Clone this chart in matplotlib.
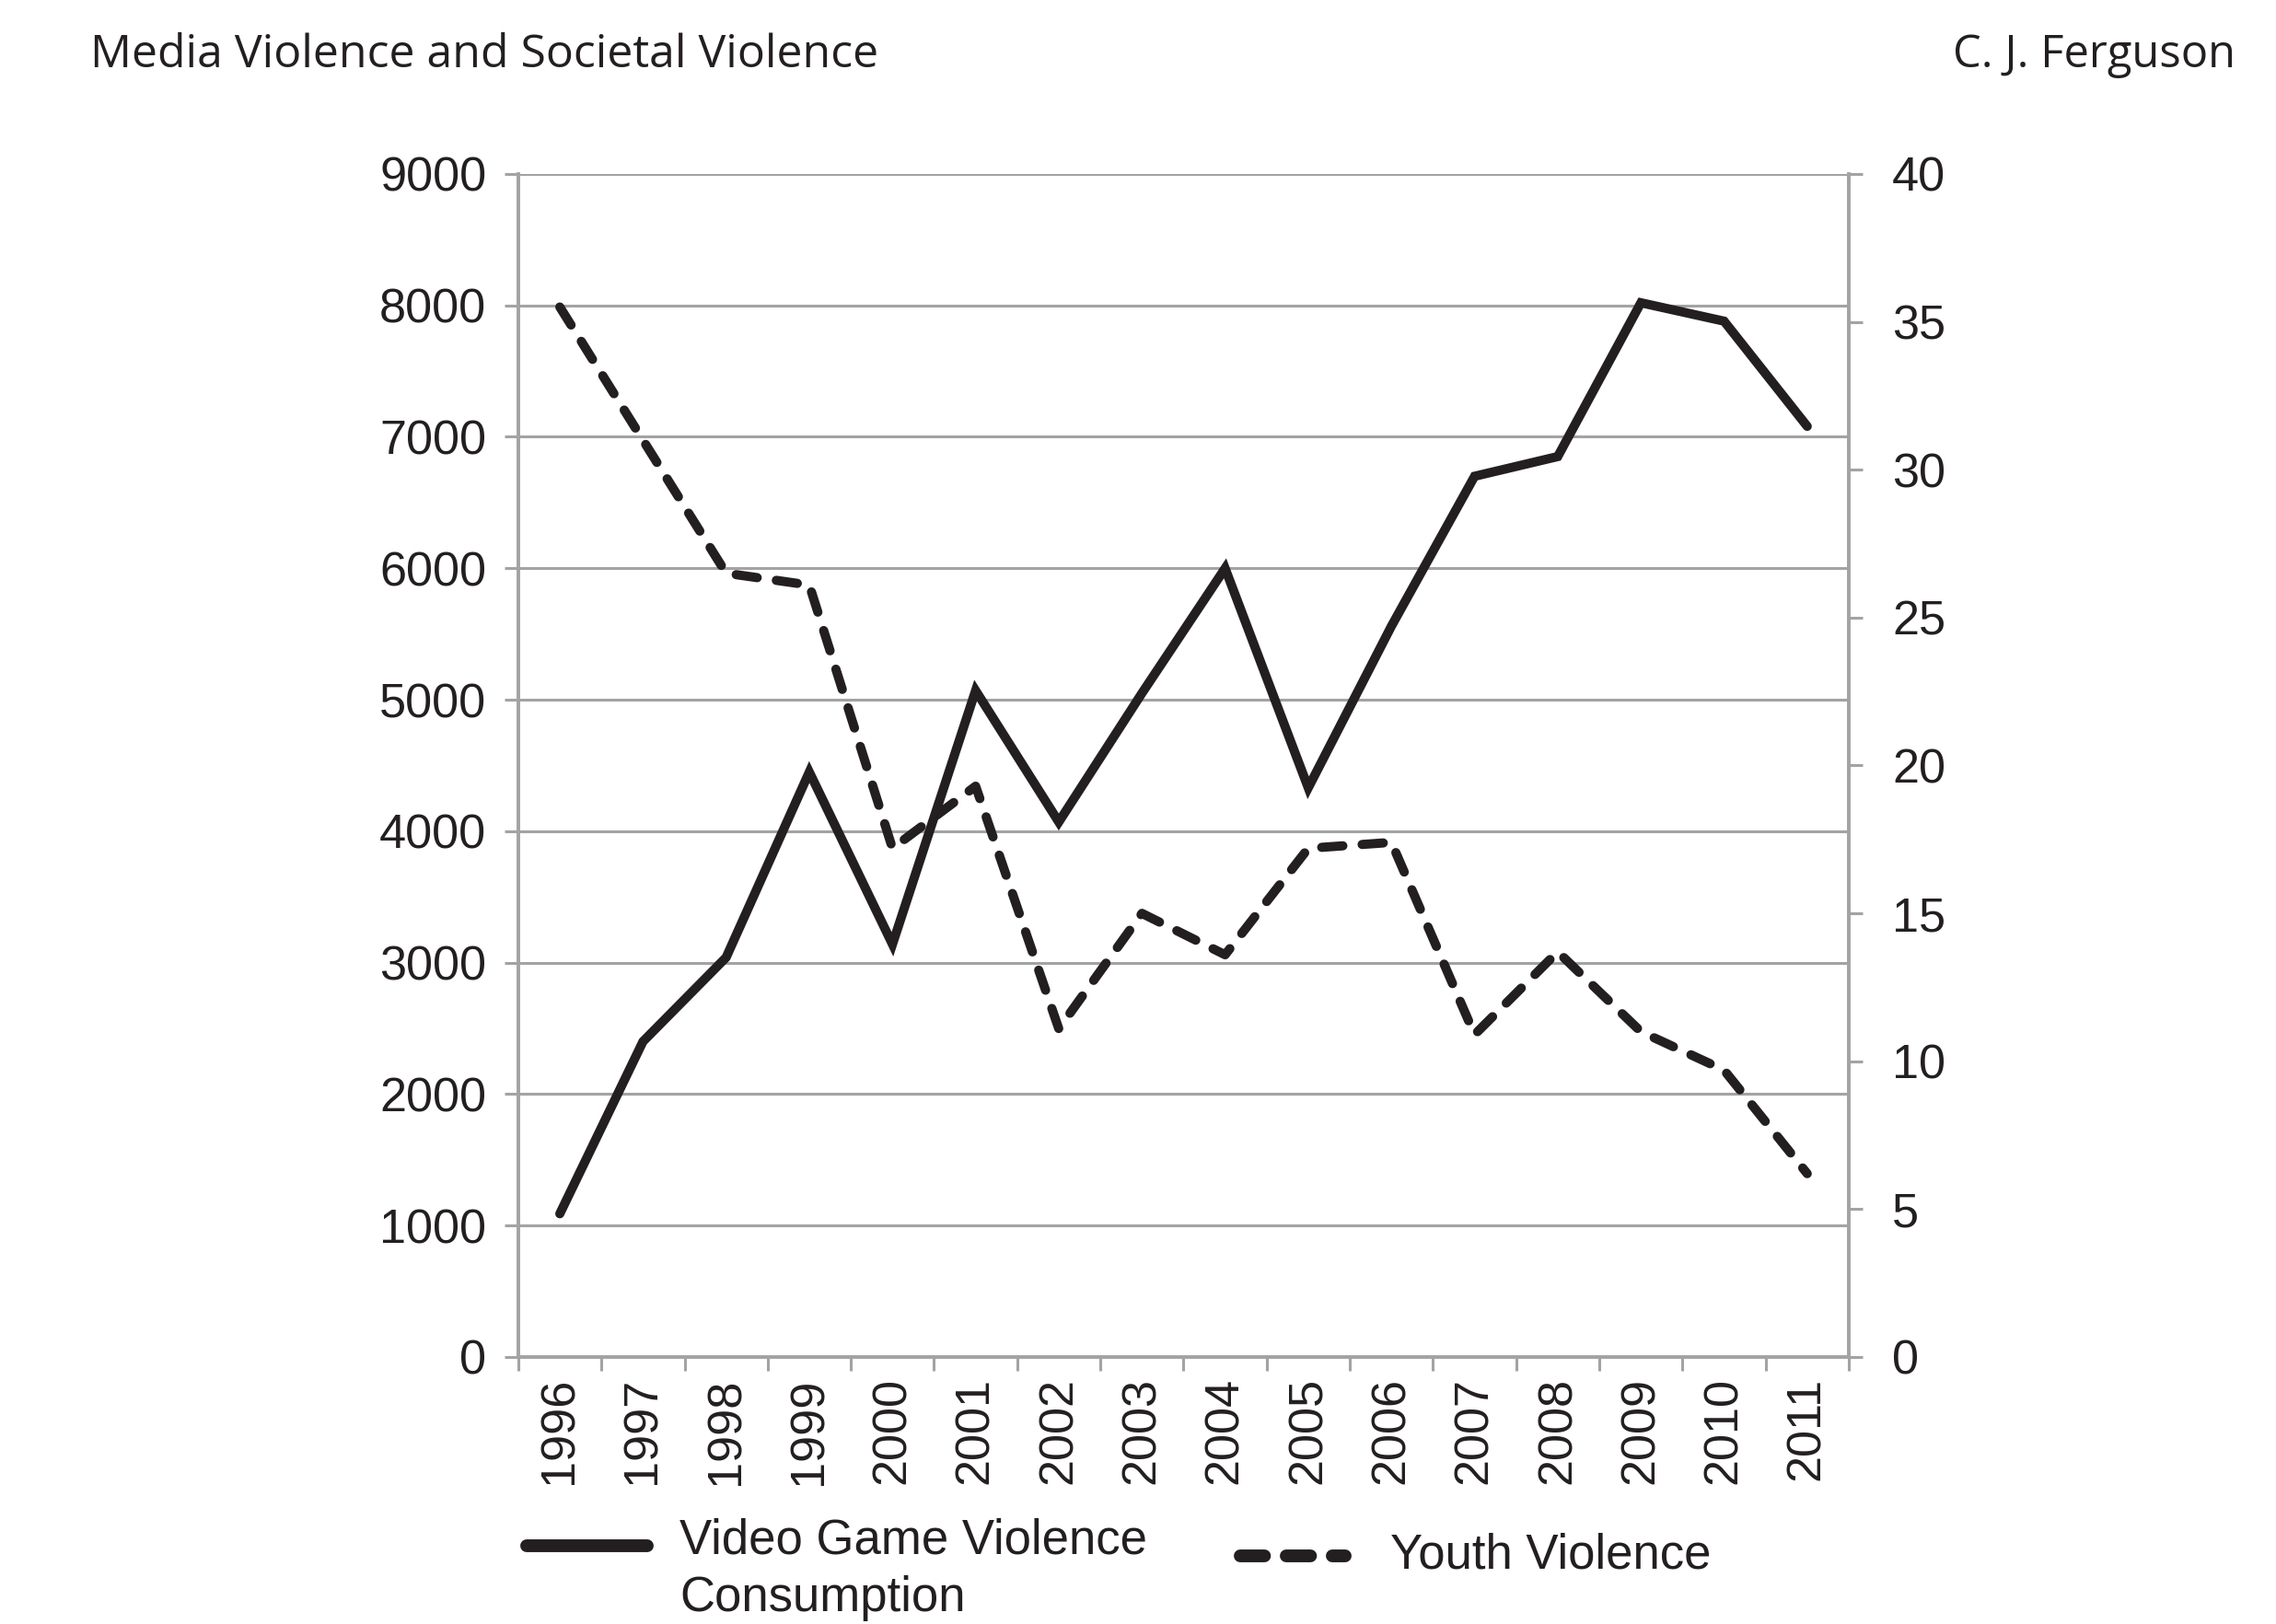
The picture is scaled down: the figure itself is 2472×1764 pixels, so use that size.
import matplotlib
matplotlib.use("Agg")
import matplotlib.pyplot as plt
from matplotlib.lines import Line2D
import numpy as np

years = ["1996", "1997", "1998", "1999", "2000", "2001", "2002", "2003",
         "2004", "2005", "2006", "2007", "2008", "2009", "2010", "2011"]
video_game = [1090, 2400, 3040, 4450, 3140, 5070, 4070, 5050,
              6000, 4330, 5560, 6700, 6850, 8020, 7880, 7080]
youth = [35.5, 31.0, 26.5, 26.1, 17.2, 19.3, 11.1, 15.0,
         13.6, 17.2, 17.4, 10.9, 13.7, 11.0, 9.7, 6.2]
left_ticks = [0, 1000, 2000, 3000, 4000, 5000, 6000, 7000, 8000, 9000]
right_ticks = [0, 5, 10, 15, 20, 25, 30, 35, 40]

plt.rcParams['font.family'] = ['Liberation Sans', 'DejaVu Sans']
GRAY = '#a3a3a3'
INK = '#231f20'

fig = plt.figure(figsize=(12.36, 8.82), dpi=200)
ax = fig.add_axes([0.2277, 0.1644, 0.5846, 0.7285])
ax2 = ax.twinx()

x = np.arange(len(years))
ax.plot(x, video_game, color=INK, lw=3.6, solid_joinstyle='miter',
        solid_capstyle='round', zorder=3)
ax2.plot(x, youth, color=INK, lw=3.6, dashes=(2.3, 2.1),
         dash_capstyle='round', dash_joinstyle='round', zorder=3)

ax.set_xlim(-0.5, len(years) - 0.5)
ax.set_ylim(0, 9000)
ax2.set_ylim(0, 40)

ax.set_yticks(left_ticks)
ax.set_yticklabels([str(t) for t in left_ticks])
ax2.set_yticks(right_ticks)
ax2.set_yticklabels([str(t) for t in right_ticks])

ax.set_xticks(x)
ax.set_xticklabels(years, rotation=90, va='top')
ax.set_xticks(np.arange(-0.5, len(years)), minor=True)
ax.tick_params(axis='x', which='major', length=0, pad=8, labelsize=18.8, colors=INK)
ax.tick_params(axis='x', which='minor', length=5.5, width=1.1, color=GRAY)
ax.tick_params(axis='y', length=5.5, width=1.1, color=GRAY, pad=7, labelsize=18.8, labelcolor=INK)
ax2.tick_params(axis='y', length=5.5, width=1.1, color=GRAY, pad=11.5, labelsize=18.8, labelcolor=INK)

ax.yaxis.grid(True, color=GRAY, lw=1.1)
ax.set_axisbelow(True)
for a in (ax, ax2):
    a.spines['top'].set_visible(False)
    for s in ('left', 'right', 'bottom'):
        a.spines[s].set_color(GRAY)
        a.spines[s].set_linewidth(1.3)

# header
fig.text(0.0396, 0.966, "Media Violence and Societal Violence", fontsize=18,
         family=['Open Sans', 'DejaVu Sans'], color=INK, ha='left', va='center')
fig.text(0.982, 0.966, "C. J. Ferguson", fontsize=17.6,
         family=['Open Sans', 'DejaVu Sans'], color=INK, ha='right', va='center')

# legend (manual)
fig.add_artist(Line2D([0.2315, 0.2845], [0.048, 0.048], transform=fig.transFigure,
                      color=INK, lw=5, solid_capstyle='round'))
fig.text(0.2985, 0.0335, "Video Game Violence\nConsumption", fontsize=19,
         color=INK, ha='left', va='center', linespacing=1.33)
fig.add_artist(Line2D([0.545, 0.591], [0.042, 0.042], transform=fig.transFigure,
                      color=INK, lw=5, dashes=(1.9, 1.7), dash_capstyle='round'))
fig.text(0.611, 0.042, "Youth Violence", fontsize=19,
         color=INK, ha='left', va='center')

fig.savefig("out.png", dpi=200)
